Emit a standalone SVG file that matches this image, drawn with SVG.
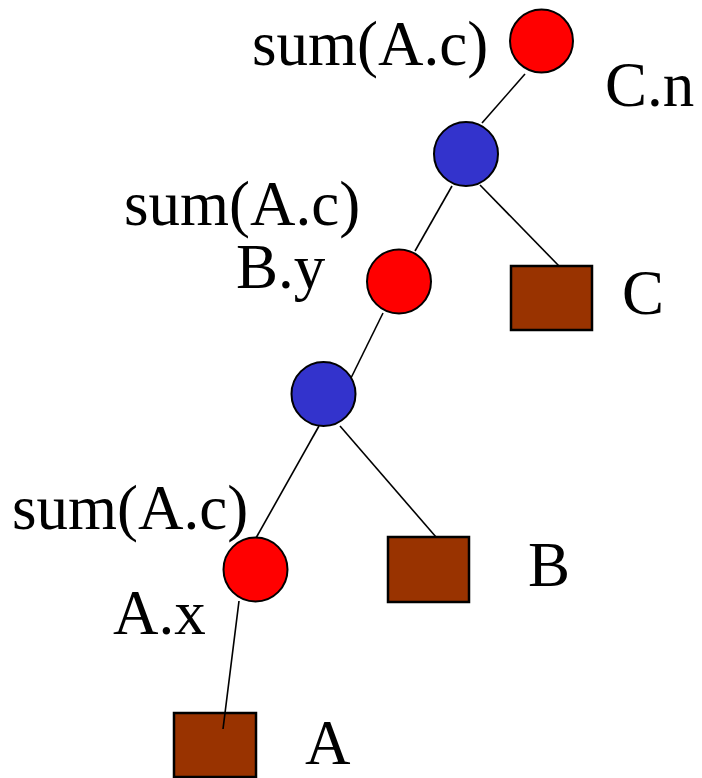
<svg xmlns="http://www.w3.org/2000/svg" width="702" height="778" viewBox="0 0 702 778">
<style>
.lbl{font-family:"Liberation Serif","Times New Roman",serif;font-size:63px;fill:#000}
.edge{stroke:#000;stroke-width:1.6;fill:none}
.red{fill:#FF0000;stroke:#000;stroke-width:2}
.blue{fill:#3333CC;stroke:#000;stroke-width:2}
.rel{fill:#993300;stroke:#000;stroke-width:2.5}
</style>
<rect width="702" height="778" fill="#fff"/>
<g id="n-C"><rect class="rel" x="511" y="266" width="81" height="64"/><text class="lbl" x="622" y="314">C</text></g>
<g id="n-B"><rect class="rel" x="388" y="537" width="81" height="65"/><text class="lbl" x="528" y="586">B</text></g>
<g id="n-A"><rect class="rel" x="174" y="713" width="82" height="64"/><text class="lbl" x="305" y="764">A</text></g>
<g id="connectors">
<line class="edge" x1="525" y1="74" x2="482" y2="123"/>
<line class="edge" x1="452" y1="186" x2="415" y2="251"/>
<line class="edge" x1="480" y1="185" x2="559" y2="266"/>
<line class="edge" x1="383" y1="313" x2="351" y2="378"/>
<line class="edge" x1="319" y1="426" x2="256" y2="538"/>
<line class="edge" x1="340" y1="426" x2="436" y2="537"/>
<line class="edge" x1="239" y1="601" x2="223" y2="729"/>
</g>
<g id="n-top"><circle class="red" cx="541.5" cy="41" r="31.5"/><text class="lbl" x="252" y="65">sum(A.c)</text><text class="lbl" x="605" y="106">C.n</text></g>
<g id="n-join1"><circle class="blue" cx="466" cy="154" r="32"/></g>
<g id="n-mid"><circle class="red" cx="399" cy="281.5" r="32"/><text class="lbl" x="124" y="225">sum(A.c)</text><text class="lbl" x="236" y="288">B.y</text></g>
<g id="n-join2"><circle class="blue" cx="323.5" cy="394" r="32"/></g>
<g id="n-low"><circle class="red" cx="255.5" cy="569.5" r="32"/><text class="lbl" x="12" y="529">sum(A.c)</text><text class="lbl" x="113" y="634">A.x</text></g>
</svg>
